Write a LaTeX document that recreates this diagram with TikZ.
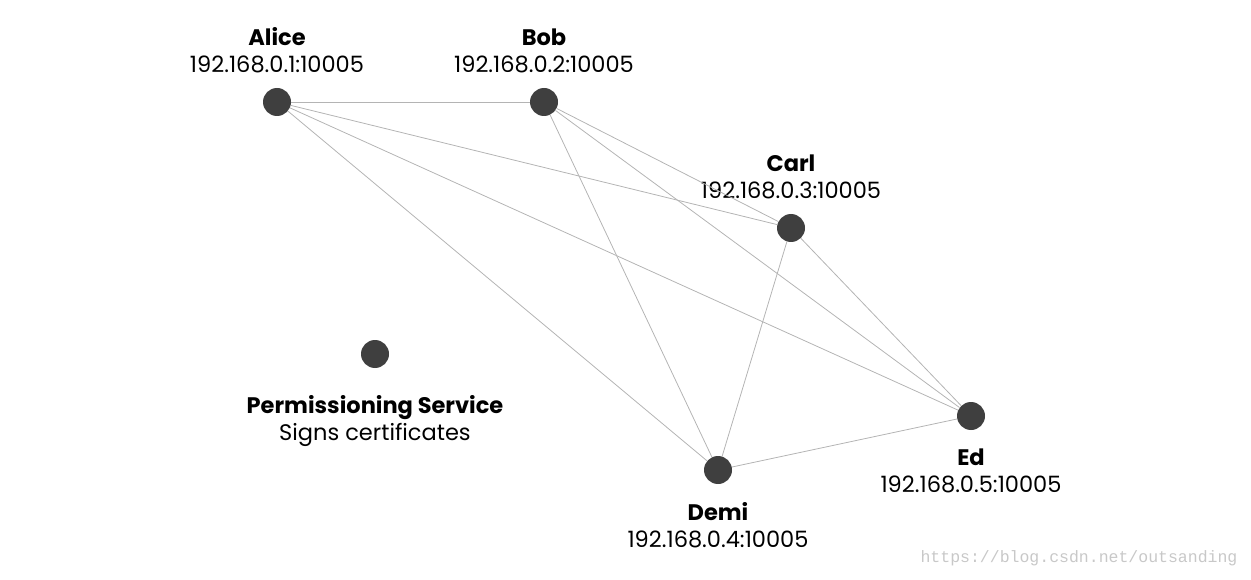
\documentclass[tikz,border=0pt]{standalone}
\usepackage{fontspec}
\setmainfont{Poppins}
\setmonofont{Liberation Mono}
\usetikzlibrary{positioning}
\definecolor{dotgray}{HTML}{3F3F3F}
\definecolor{wiregray}{HTML}{B4B4B4}
\definecolor{markgray}{HTML}{C8C8C8}
\begin{document}
\begin{tikzpicture}[x=1pt,y=-1pt,
    peer/.style={circle,fill=dotgray,minimum size=28pt,inner sep=0pt},
    tag/.style={align=center,inner sep=0pt,font=\fontsize{22.5}{27}\selectfont},
    wire/.style={draw=wiregray,line width=0.8pt}]

      \useasboundingbox (0,0) rectangle (1251,580);

      \begin{scope}[every node/.style={peer}]
        \node (alice) at (277,102) {};
        \node (bob)   at (544,102) {};
        \node (carl)  at (791,228) {};
        \node (demi)  at (718,470) {};
        \node (ed)    at (971,416) {};
        \node (perm)  at (375,354) {};
      \end{scope}

      \begin{scope}[every node/.style={tag}]
        \node[above=15pt of alice] (alicetxt) {\textbf{Alice}\\192.168.0.1:10005};
        \node[above=15pt of bob]   (bobtxt)   {\textbf{Bob}\\192.168.0.2:10005};
        \node[above=15pt of carl]  (carltxt)  {\textbf{Carl}\\192.168.0.3:10005};
        \node[below=18pt of demi]  (demitxt)  {\textbf{Demi}\\192.168.0.4:10005};
        \node[below=18pt of ed]    (edtxt)    {\textbf{Ed}\\192.168.0.5:10005};
        \node[below=27pt of perm]  (permtxt)  {\textbf{Permissioning Service}\\Signs certificates};
      \end{scope}

      \begin{scope}[every edge/.style={wire}]
        \path (alice) edge (bob);
        \path (alice) edge (carl);
        \path (alice) edge (ed);
        \path (alice) edge (demi);
        \path (bob)   edge (carl);
        \path (bob)   edge (ed);
        \path (bob)   edge (demi);
        \path (carl)  edge (ed);
        \path (carl)  edge (demi);
        \path (demi)  edge (ed);
      \end{scope}

      \node[anchor=base,text=markgray,font=\ttfamily\fontsize{16.5}{18}\selectfont] (mark) at (1079,562) {https://blog.csdn.net/outsanding};

    \end{tikzpicture}
\end{document}
